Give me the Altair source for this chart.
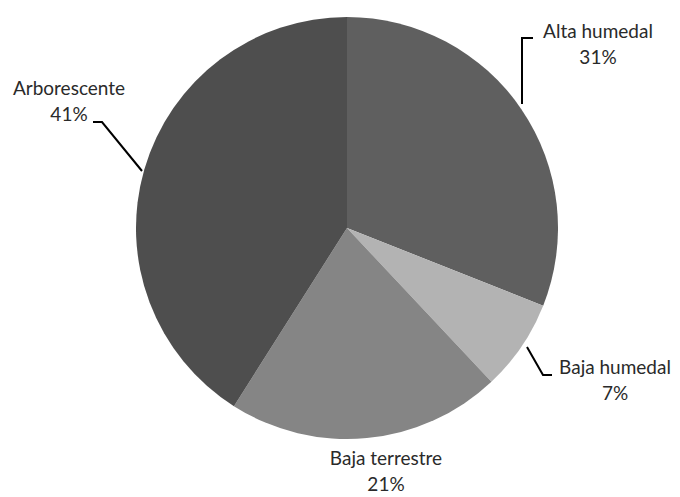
import altair as alt
import pandas as pd

# ---- data ----
categories = ["Alta humedal", "Baja humedal", "Baja terrestre", "Arborescente"]
percent = [31, 7, 21, 41]

# ---- styling / layout (image pixel coordinates) ----
colors = ["#5f5f5f", "#b3b3b3", "#858585", "#4e4e4e"]
name_x = [598, 615, 386, 69]
name_y = [32, 368, 459, 89]
pct_dy = 26
leader_lines = {
    "Alta humedal": [(522, 104), (522, 38), (533, 38)],
    "Baja humedal": [(527, 347), (543, 375), (552, 375)],
    "Arborescente": [(142, 171), (102, 122), (93, 122)],
}
center_x, center_y, radius = 347, 228, 211
W, H = 664, 489

pie_df = pd.DataFrame({
    "cat": categories,
    "pct": percent,
    "idx": list(range(len(categories))),
})

lab_df = pd.DataFrame({
    "cat": categories,
    "name": categories,
    "pcttxt": [f"{p}%" for p in percent],
    "x": name_x,
    "y1": name_y,
    "y2": [y + pct_dy for y in name_y],
})

rows = []
for k, pts in leader_lines.items():
    for i, (x, y) in enumerate(pts):
        rows.append({"cat": k, "o": i, "x": x, "y": y})
line_df = pd.DataFrame(rows)

xs = alt.Scale(domain=[8, 8 + W], range=[0, W])
ys = alt.Scale(domain=[8, 8 + H], range=[0, H])

pie = alt.Chart(pie_df).mark_arc(radius=radius).encode(
    theta=alt.Theta("pct:Q", stack=True),
    color=alt.Color("cat:N", scale=alt.Scale(domain=categories, range=colors), legend=None),
    order=alt.Order("idx:Q"),
    x=alt.value(center_x - 8),
    y=alt.value(center_y - 8),
)

text_kw = dict(align="center", baseline="middle", fontSize=19, font="Lato", color="#2a2a2a")

names = alt.Chart(lab_df).mark_text(**text_kw).encode(
    x=alt.X("x:Q", scale=xs, axis=None),
    y=alt.Y("y1:Q", scale=ys, axis=None),
    text="name:N",
)
pcts = alt.Chart(lab_df).mark_text(**text_kw).encode(
    x=alt.X("x:Q", scale=xs, axis=None),
    y=alt.Y("y2:Q", scale=ys, axis=None),
    text="pcttxt:N",
)

leaders = alt.Chart(line_df).mark_line(color="black", strokeWidth=2).encode(
    x=alt.X("x:Q", scale=xs, axis=None),
    y=alt.Y("y:Q", scale=ys, axis=None),
    detail="cat:N",
    order="o:Q",
)

chart = alt.layer(pie, leaders, names, pcts).properties(
    width=W, height=H, autosize=alt.AutoSizeParams(type="none"), padding=0
).configure_view(stroke=None)

chart.save("out.html", embed_options={"renderer": "svg", "actions": False})
